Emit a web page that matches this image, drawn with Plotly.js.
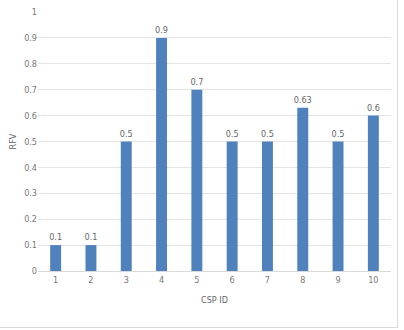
<!DOCTYPE html>
<html>
<head>
<meta charset="utf-8">
<script src="https://cdn.plot.ly/plotly-3.0.1.min.js"></script>
<style>
html,body{margin:0;padding:0;background:#fff;}
#wrap{position:absolute;left:0;top:0;width:397px;height:327px;border-right:1px solid #d9d9d9;border-bottom:1px solid #d9d9d9;}
#chart{position:absolute;left:0;top:0;width:404px;height:330px;}
</style>
</head>
<body>
<div id="wrap"></div>
<div id="chart"></div>
<script>
var cspIds = ['1','2','3','4','5','6','7','8','9','10'];
var rfvValues = [0.1, 0.1, 0.5, 0.9, 0.7, 0.5, 0.5, 0.63, 0.5, 0.6];
var yTicks = [0, 0.1, 0.2, 0.3, 0.4, 0.5, 0.6, 0.7, 0.8, 0.9, 1];

var fontFam = '"Liberation Sans Narrow", "DejaVu Sans Condensed", Arial, sans-serif';

var trace = {
  type: 'bar',
  x: cspIds,
  y: rfvValues,
  text: rfvValues.map(String),
  textposition: 'outside',
  constraintext: 'none',
  cliponaxis: false,
  textfont: {family: fontFam, size: 9, color: '#666666'},
  outsidetextfont: {family: fontFam, size: 9, color: '#666666'},
  marker: {color: '#4f81bd'},
  hoverinfo: 'none'
};

var layout = {
  width: 404,
  height: 330,
  margin: {l: 38, r: 13, t: 12, b: 59},
  paper_bgcolor: 'rgba(0,0,0,0)',
  plot_bgcolor: 'rgba(0,0,0,0)',
  bargap: 0.69,
  showlegend: false,
  uniformtext: {mode: false},
  font: {family: fontFam, size: 9, color: '#777'},
  xaxis: {
    type: 'category',
    showgrid: false,
    showline: true,
    linecolor: '#d9d9d9',
    linewidth: 1,
    ticks: '',
    ticklen: 0,
    tickfont: {family: fontFam, size: 9, color: '#777'},
    title: {text: 'CSP ID', font: {family: fontFam, size: 9, color: '#666'}, standoff: 12},
    zeroline: false
  },
  yaxis: {
    range: [0, 1],
    tickvals: yTicks,
    ticktext: yTicks.map(String),
    showgrid: true,
    gridcolor: '#e4e4e4',
    gridwidth: 1,
    zeroline: false,
    showline: false,
    ticks: '',
    tickfont: {family: fontFam, size: 9, color: '#777'},
    title: {text: 'RFV', font: {family: fontFam, size: 9, color: '#666'}, standoff: 5}
  }
};

Plotly.newPlot('chart', [trace], layout, {displayModeBar: false, staticPlot: true});
</script>
</body>
</html>
